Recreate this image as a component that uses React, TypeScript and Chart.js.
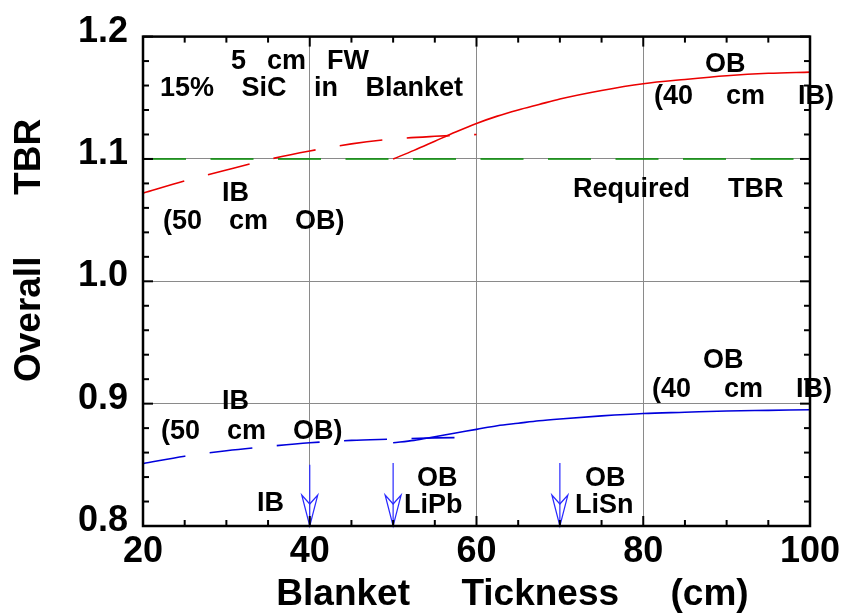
import { useEffect, useRef } from "react";
import { Chart, registerables } from "chart.js";

Chart.register(...registerables);

// ---------- data ----------
const ibThickness = [20, 25, 30, 35, 40, 45, 50, 55, 60];
const tbrLiPbIB = [1.072, 1.082, 1.091, 1.0995, 1.1065, 1.1123, 1.1163, 1.1185, 1.12];
const tbrLiSnIB = [0.851, 0.857, 0.8615, 0.865, 0.868, 0.87, 0.871, 0.872, 0.8725];

const obThickness = [50, 52.5, 55, 57.5, 60, 62.5, 65, 67.5, 70, 75, 80, 85, 90, 95, 100];
const tbrLiPbOB = [1.1, 1.107, 1.1145, 1.122, 1.129, 1.135, 1.14, 1.1445, 1.149, 1.156, 1.1615, 1.165, 1.168, 1.17, 1.171];
const tbrLiSnOB = [0.868, 0.87, 0.873, 0.876, 0.879, 0.882, 0.884, 0.886, 0.8875, 0.89, 0.892, 0.893, 0.894, 0.8945, 0.895];

const requiredX = [20, 100];
const requiredTBR = [1.1, 1.1];

const xTickValues = [20, 40, 60, 80, 100];
const yTickLabels = ["0.8", "0.9", "1.0", "1.1", "1.2"];

const arrowX = [40, 50, 70];
const arrowTop = [0.85, 0.8515, 0.8515];

// ---------- layout (annotation text, in data coordinates) ----------
const annotations = [
  { text: "5 cm FW", x: 30.55, y: 1.1734, gap: 21 },
  { text: "15% SiC in Blanket", x: 22.04, y: 1.1517, gap: 27.5 },
  { text: "OB", x: 87.41, y: 1.1714, gap: 0 },
  { text: "(40 cm IB)", x: 81.29, y: 1.1453, gap: 33 },
  { text: "Required TBR", x: 71.57, y: 1.0688, gap: 38 },
  { text: "IB", x: 29.48, y: 1.0656, gap: 0 },
  { text: "(50 cm OB)", x: 22.4, y: 1.0431, gap: 27 },
  { text: "OB", x: 87.17, y: 0.9288, gap: 0 },
  { text: "(40 cm IB)", x: 81.05, y: 0.9054, gap: 33 },
  { text: "IB", x: 29.48, y: 0.8958, gap: 0 },
  { text: "(50 cm OB)", x: 22.16, y: 0.8708, gap: 27 },
  { text: "IB", x: 33.67, y: 0.8121, gap: 0 },
  { text: "OB", x: 52.86, y: 0.833, gap: 0 },
  { text: "LiPb", x: 51.3, y: 0.8105, gap: 0 },
  { text: "OB", x: 73.01, y: 0.833, gap: 0 },
  { text: "LiSn", x: 71.81, y: 0.8105, gap: 0 },
];

const FONT = '"Liberation Sans", Arial, Helvetica, sans-serif';
const DASH = [43, 24.5];

const toPoints = (xs: number[], ys: number[]) => xs.map((x, i) => ({ x, y: ys[i] }));

const framePlugin = {
  id: "frameAndNotes",
  afterDraw(chart: any) {
    const { ctx, chartArea: a, scales } = chart;
    const xs = scales.x;
    const ys = scales.y;
    ctx.save();

    // arrows
    ctx.strokeStyle = "rgb(40,40,255)";
    ctx.lineWidth = 1.2;
    arrowX.forEach((v, i) => {
      const px = xs.getPixelForValue(v);
      const top = ys.getPixelForValue(arrowTop[i]);
      const tip = ys.getPixelForValue(0.8);
      ctx.beginPath();
      ctx.moveTo(px, top);
      ctx.lineTo(px, tip);
      ctx.stroke();
      ctx.beginPath();
      ctx.moveTo(px - 8, tip - 31);
      ctx.lineTo(px, tip);
      ctx.lineTo(px + 8, tip - 31);
      ctx.lineTo(px, tip - 22);
      ctx.closePath();
      ctx.stroke();
    });

    // tick marks, pointing inwards on all four sides
    ctx.strokeStyle = "#000";
    ctx.lineWidth = 2;
    const seg = (x1: number, y1: number, x2: number, y2: number) => {
      ctx.beginPath();
      ctx.moveTo(x1, y1);
      ctx.lineTo(x2, y2);
      ctx.stroke();
    };
    for (let i = 0; i <= 16; i++) {
      const v = 20 + i * 5;
      const px = xs.getPixelForValue(v);
      const len = i % 4 === 0 ? 10 : 6;
      seg(px, a.bottom, px, a.bottom - len);
      seg(px, a.top, px, a.top + len);
    }
    for (let i = 0; i <= 20; i++) {
      const v = 0.8 + i * 0.02;
      const py = ys.getPixelForValue(v);
      const len = i % 5 === 0 ? 10 : 6;
      seg(a.left, py, a.left + len, py);
      seg(a.right, py, a.right - len, py);
    }
    ctx.lineWidth = 2.5;
    ctx.strokeRect(a.left, a.top, a.right - a.left, a.bottom - a.top);

    // annotation text
    ctx.fillStyle = "#000";
    ctx.font = `bold 27px ${FONT}`;
    ctx.textAlign = "left";
    ctx.textBaseline = "alphabetic";
    for (const an of annotations) {
      let px = xs.getPixelForValue(an.x);
      const py = ys.getPixelForValue(an.y);
      for (const w of an.text.split(" ")) {
        ctx.fillText(w, px, py);
        px += ctx.measureText(w).width + an.gap;
      }
    }
    ctx.restore();
  },
};

export default function App() {
  const ref = useRef<HTMLCanvasElement | null>(null);

  useEffect(() => {
    document.body.style.margin = "0";
    if (!ref.current) return;
    const chart = new Chart(ref.current, {
      type: "line",
      data: {
        datasets: [
          {
            label: "Required TBR",
            data: toPoints(requiredX, requiredTBR),
            borderColor: "rgb(0,140,0)",
            borderWidth: 1.5,
            borderDash: DASH,
            pointRadius: 0,
          },
          {
            label: "LiPb, IB varied (50 cm OB)",
            data: toPoints(ibThickness, tbrLiPbIB),
            borderColor: "rgb(235,0,0)",
            borderWidth: 1.6,
            borderDash: DASH,
            pointRadius: 0,
            cubicInterpolationMode: "monotone",
          },
          {
            label: "LiPb, OB varied (40 cm IB)",
            data: toPoints(obThickness, tbrLiPbOB),
            borderColor: "rgb(235,0,0)",
            borderWidth: 1.6,
            pointRadius: 0,
            cubicInterpolationMode: "monotone",
          },
          {
            label: "LiSn, IB varied (50 cm OB)",
            data: toPoints(ibThickness, tbrLiSnIB),
            borderColor: "rgb(0,0,220)",
            borderWidth: 1.6,
            borderDash: DASH,
            pointRadius: 0,
            cubicInterpolationMode: "monotone",
          },
          {
            label: "LiSn, OB varied (40 cm IB)",
            data: toPoints(obThickness, tbrLiSnOB),
            borderColor: "rgb(0,0,220)",
            borderWidth: 1.6,
            pointRadius: 0,
            cubicInterpolationMode: "monotone",
          },
        ],
      },
      options: {
        responsive: false,
        animation: false,
        events: [],
        layout: { padding: { left: 0, top: 29, right: 38, bottom: 0 } },
        plugins: { legend: { display: false }, tooltip: { enabled: false } },
        scales: {
          x: {
            type: "linear",
            min: 20,
            max: 100,
            afterFit: (s: any) => {
              s.height = 90;
            },
            afterBuildTicks: (s: any) => {
              s.ticks = xTickValues.map((v) => ({ value: v }));
            },
            grid: { color: "#8a8a8a", lineWidth: 1, drawTicks: false },
            border: { display: false },
            ticks: {
              color: "#000",
              padding: 4,
              autoSkip: false,
              maxRotation: 0,
              font: { family: FONT, size: 36, weight: "bold", lineHeight: 1.2 },
            },
            title: {
              display: true,
              text: "       Blanket     Tickness     (cm)",
              color: "#000",
              padding: { top: 0, bottom: 3 },
              font: { family: FONT, size: 37, weight: "bold", lineHeight: 1 },
            },
          },
          y: {
            type: "linear",
            min: 0.8,
            max: 1.2,
            afterFit: (s: any) => {
              s.width = 143;
            },
            afterBuildTicks: (s: any) => {
              s.ticks = yTickLabels.map((t) => ({ value: parseFloat(t) }));
            },
            grid: { color: "#8a8a8a", lineWidth: 1, drawTicks: false },
            border: { display: false },
            ticks: {
              color: "#000",
              padding: 15,
              labelOffset: -5,
              autoSkip: false,
              callback: (_v: any, i: number) => yTickLabels[i],
              font: { family: FONT, size: 36, weight: "bold", lineHeight: 1.2 },
            },
            title: {
              display: true,
              text: "      Overall      TBR",
              color: "#000",
              padding: { top: 11, bottom: 0 },
              font: { family: FONT, size: 37, weight: "bold", lineHeight: 1 },
            },
          },
        },
      },
      plugins: [framePlugin],
    } as any);
    return () => chart.destroy();
  }, []);

  return (
    <div style={{ position: "fixed", left: 0, top: 0, width: 848, height: 616, background: "#fff" }}>
      <canvas ref={ref} width={848} height={616} />
    </div>
  );
}
